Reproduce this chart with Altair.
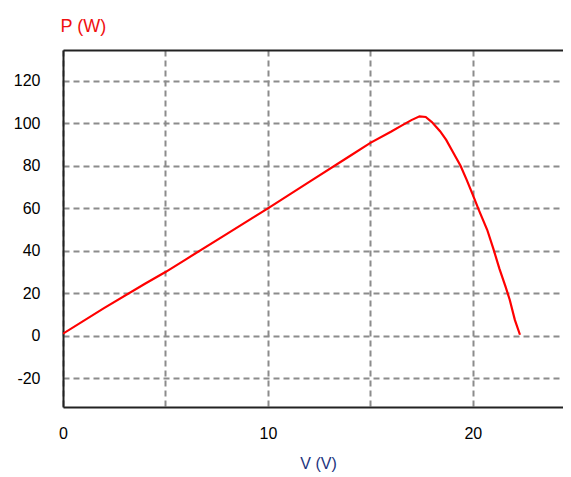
import altair as alt
import pandas as pd

# P-V curve
volts = [0, 2, 4, 5, 6, 8, 10, 12, 14, 15, 16, 16.5, 17, 17.4, 17.7, 18.0, 18.4,
         18.7, 19.0, 19.4, 19.7, 20.0, 20.3, 20.7, 21.0, 21.3, 21.6, 21.8, 22.05, 22.3]
power = [1, 13, 24.5, 30, 36, 48, 60, 72.3, 84.6, 90.8, 96, 98.8, 101.5, 103.3, 103, 100.6, 96.3,
         92.2, 87, 80, 73.4, 66.3, 59, 49.9, 41, 31.5, 23, 17, 7.5, 0.5]

x_ticks = [0, 5, 10, 15, 20]
y_ticks = [-20, 0, 20, 40, 60, 80, 100, 120]
x_domain = [0, 24.4]
y_domain = [-33.5, 134.5]

df = pd.DataFrame({"V": volts, "P": power})

FONT = "Liberation Sans"
GRID = "#8c8c8c"

base = alt.Chart(df)

main = base.mark_line(color="#ff0000", strokeWidth=2.2, clip=True).encode(
    x=alt.X("V:Q",
            scale=alt.Scale(domain=x_domain, nice=False, zero=False),
            axis=alt.Axis(values=x_ticks,
                          labelExpr="datum.value % 10 == 0 ? toString(datum.value) : ''",
                          ticks=False, labelPadding=18, labelFlush=False,
                          labelFont=FONT, labelFontSize=16, labelColor="#000000",
                          domain=True, domainColor="#222222", domainWidth=2,
                          grid=True, gridColor=GRID, gridDash=[6, 4], gridWidth=2,
                          title="V (V)", titleFont=FONT, titleFontSize=16,
                          titleFontWeight="normal", titleColor="#22347e",
                          titleX=255, titleY=61, titleBaseline="alphabetic",
                          titleAlign="center")),
    y=alt.Y("P:Q",
            scale=alt.Scale(domain=y_domain, nice=False, zero=False),
            axis=alt.Axis(values=y_ticks, ticks=False, labelPadding=23, labelFlush=False,
                          labelExpr="toString(datum.value)",
                          labelFont=FONT, labelFontSize=16, labelColor="#000000",
                          domain=True, domainColor="#222222", domainWidth=2,
                          grid=True, gridColor=GRID, gridDash=[6, 4], gridWidth=2,
                          title="P (W)", titleFont=FONT, titleFontSize=18,
                          titleFontWeight="normal", titleColor="#f01010",
                          titleAngle=0, titleAlign="left", titleBaseline="alphabetic",
                          titleX=-3, titleY=-19)),
)

# invisible layer that only carries the top border axis
top = base.mark_point(opacity=0).encode(
    x=alt.X("V:Q",
            scale=alt.Scale(domain=x_domain, nice=False, zero=False),
            axis=alt.Axis(orient="top", labels=False, ticks=False, grid=False,
                          domain=True, domainColor="#222222", domainWidth=2,
                          title=None)),
)

chart = alt.layer(main, top).resolve_axis(x="independent").properties(
    width=500, height=357,
    autosize=alt.AutoSizeParams(type="none"),
    padding={"left": 55, "top": 42, "right": 0, "bottom": 66},
).configure_view(stroke=None).configure(background="white")

chart.save("out.html", embed_options={"renderer": "svg", "actions": False})
